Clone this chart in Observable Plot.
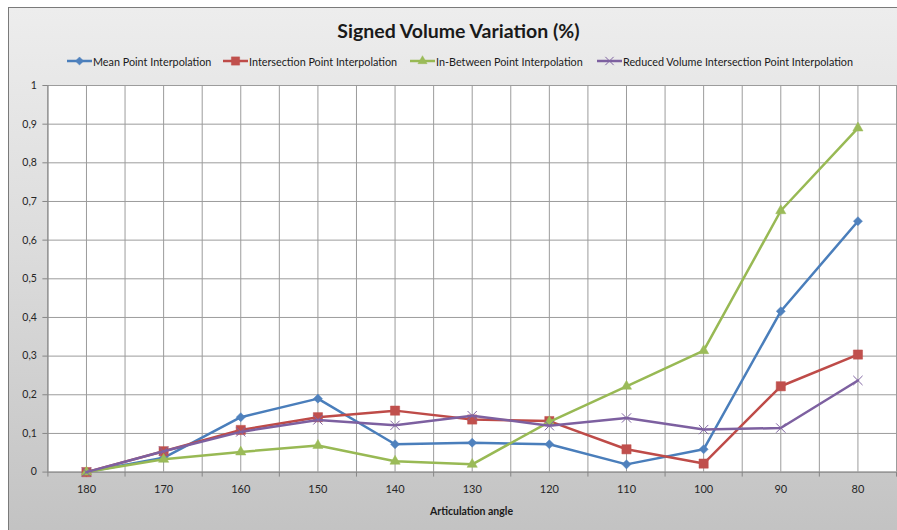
<!DOCTYPE html>
<html>
<head>
<meta charset="utf-8">
<script src="https://cdn.jsdelivr.net/npm/d3@7"></script>
<script src="https://cdn.jsdelivr.net/npm/@observablehq/plot@0.6"></script>
<style>
  html, body { margin: 0; padding: 0; width: 897px; height: 530px; overflow: hidden; background: #fff; }
  #frame { position: absolute; left: 8px; top: 7px; width: 895px; height: 530px; border: 1px solid #7a7a7a;
           background: linear-gradient(to bottom, #ededed 0%, #dcdcdc 45%, #c2c2c2 100%); }
  #title { position: absolute; left: 0; width: 917px; top: 19px; text-align: center; font-family: Lato, sans-serif;
           font-weight: bold; font-size: 19.5px; color: #1a1a1a; }
  .leg { position: absolute; top: 53px; height: 16px; display: flex; align-items: center; font-family: Lato, sans-serif;
         font-size: 10.8px; color: #1a1a1a; white-space: nowrap; }
  .leg svg { margin-right: 1px; }
  #chart { position: absolute; left: 0; top: 75px; }
  #xlabel { position: absolute; left: 0; width: 943px; top: 505px; text-align: center; font-family: Lato, sans-serif;
            font-weight: bold; font-size: 10.5px; color: #1a1a1a; }
</style>
</head>
<body>
<div id="frame"></div>
<div id="title">Signed Volume Variation (%)</div>
<div id="legend"></div>
<div id="chart"></div>
<div id="xlabel">Articulation angle</div>
<script>
// ---- data ----
const angles = [180, 170, 160, 150, 140, 130, 120, 110, 100, 90, 80];
const seriesNames = ["Mean Point Interpolation", "Intersection Point Interpolation", "In-Between Point Interpolation", "Reduced Volume Intersection Point Interpolation"];
const meanPoint    = [0, 0.037, 0.142, 0.190, 0.072, 0.076, 0.072, 0.020, 0.059, 0.416, 0.649];
const intersection = [0, 0.054, 0.109, 0.142, 0.159, 0.136, 0.132, 0.059, 0.022, 0.222, 0.304];
const inBetween    = [0, 0.033, 0.052, 0.069, 0.028, 0.020, 0.130, 0.222, 0.314, 0.676, 0.890];
const reducedVol   = [0, 0.054, 0.104, 0.135, 0.121, 0.146, 0.120, 0.140, 0.110, 0.114, 0.237];
const yTicks = [0, 0.1, 0.2, 0.3, 0.4, 0.5, 0.6, 0.7, 0.8, 0.9, 1];
const yTickLabels = ["0", "0,1", "0,2", "0,3", "0,4", "0,5", "0,6", "0,7", "0,8", "0,9", "1"];
const xBoundaries = [185, 175, 165, 155, 145, 135, 125, 115, 105, 95, 85, 75];

// ---- styles ----
const lineColors = ["#4A7EBB", "#BE4B48", "#98B954", "#7D60A0"];
const markColors = ["#4F81BD", "#C0504D", "#9BBB59", "#8064A2"];
const symbols = ["diamond2", "square", "triangle", "times"];
const radii = [4.1, 5.2, 3.8, 4.3];

const allValues = [meanPoint, intersection, inBetween, reducedVol];
const series = allValues.map((vals, i) => angles.map((a, j) => ({angle: a, value: vals[j], series: seriesNames[i]})));

const marks = [
  Plot.frame({fill: "white", stroke: null}),
  Plot.gridY(yTicks, {stroke: "#9c9c9c", strokeOpacity: 1}),
  Plot.gridX(xBoundaries.concat(angles), {stroke: "#9c9c9c", strokeOpacity: 1}),
  Plot.ruleY([0], {stroke: "#868686"}),
  Plot.ruleX([185], {stroke: "#868686"}),
  Plot.axisY(yTicks, {tickSize: 5, tickPadding: 6, stroke: "#868686", fill: "#262626", fontSize: 10.5,
    tickFormat: d => yTickLabels[yTicks.indexOf(d)], label: null}),
  Plot.axisX(xBoundaries, {tickSize: 5, stroke: "#868686", tickFormat: () => "", label: null}),
  Plot.axisX(angles, {tickSize: 0, tickPadding: 13, fill: "#262626", fontSize: 11, tickFormat: d => String(d), label: null})
];
series.forEach((data, i) => {
  marks.push(Plot.line(data, {x: "angle", y: "value", stroke: lineColors[i], strokeWidth: 2.5, strokeLinejoin: "round"}));
  if (symbols[i] === "times") {
    marks.push(Plot.dot(data, {x: "angle", y: "value", symbol: () => symbols[i], r: radii[i], stroke: markColors[i], strokeWidth: 1, fill: "none"}));
  } else {
    marks.push(Plot.dot(data, {x: "angle", y: "value", symbol: () => symbols[i], r: radii[i], fill: markColors[i], stroke: markColors[i], strokeWidth: 0.5}));
  }
});

const chart = Plot.plot({
  width: 897,
  height: 455,
  marginTop: 10,
  marginBottom: 58.4,
  marginLeft: 47.4,
  marginRight: 1,
  x: {type: "linear", domain: [185, 75], axis: null},
  y: {domain: [0, 1], axis: null},
  symbol: {type: "identity"},
  style: {background: "transparent", fontFamily: "Lato, sans-serif", fontSize: "11px", color: "#262626", overflow: "visible"},
  marks
});
document.getElementById("chart").appendChild(chart);

// ---- legend ----
const legendX = [67, 223, 410, 597];
const legend = document.getElementById("legend");
seriesNames.forEach((name, i) => {
  const item = document.createElement("div");
  item.className = "leg";
  item.style.left = legendX[i] + "px";
  const sym = d3.symbol().type({diamond2: d3.symbolDiamond2, square: d3.symbolSquare, triangle: d3.symbolTriangle, times: d3.symbolTimes}[symbols[i]])
    .size(Math.PI * radii[i] * radii[i] * 0.8);
  const filled = symbols[i] !== "times";
  item.innerHTML = `<svg width="25" height="12"><line x1="0" x2="25" y1="6" y2="6" stroke="${lineColors[i]}" stroke-width="2.5"/>` +
    `<path transform="translate(12.5,6)" d="${sym()}" fill="${filled ? markColors[i] : "none"}" stroke="${markColors[i]}" stroke-width="${filled ? 0.5 : 1}"/></svg>` +
    `<span>${name}</span>`;
  legend.appendChild(item);
});
</script>
</body>
</html>
